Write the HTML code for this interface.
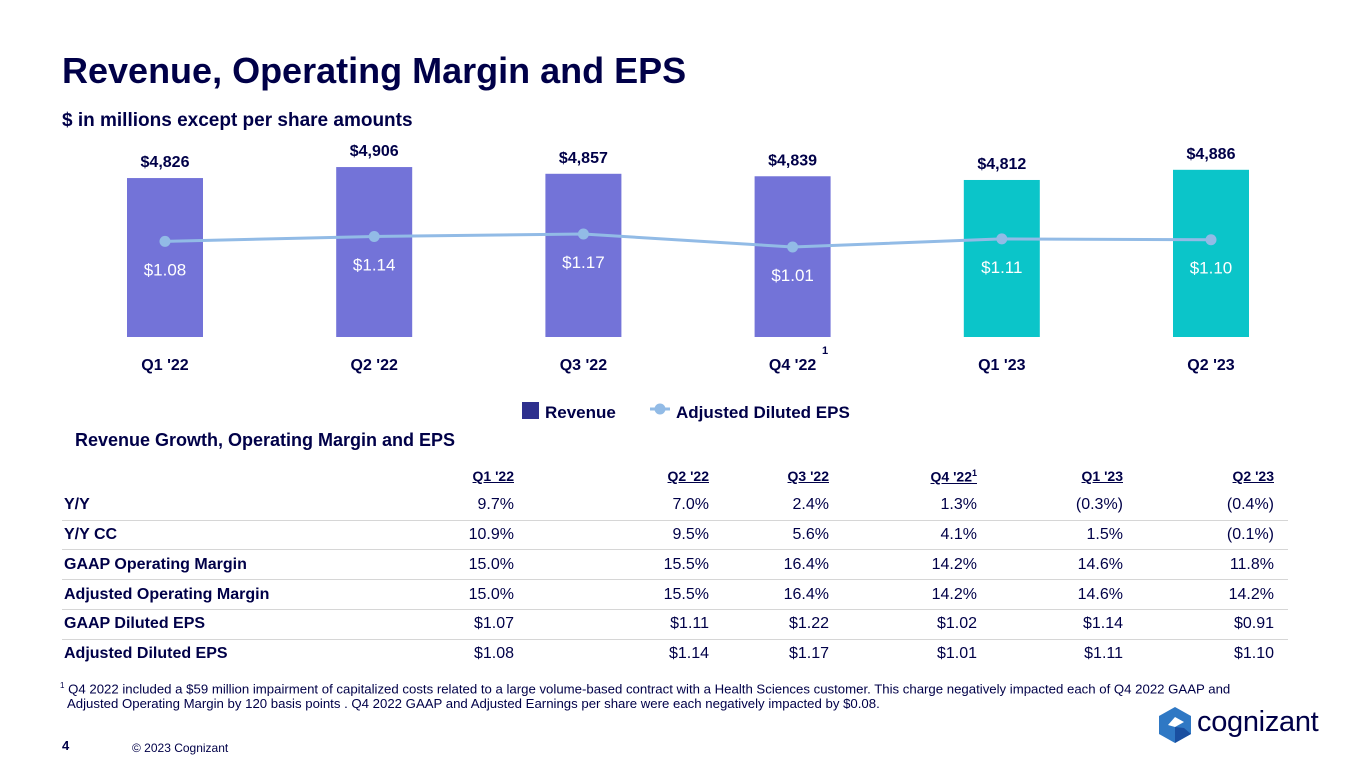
<!DOCTYPE html>
<html><head><meta charset="utf-8"><style>
body{margin:0;width:1365px;height:768px;background:#fff;font-family:"Liberation Sans",sans-serif;color:#000048;position:relative;overflow:hidden}
.abs{position:absolute}
table{position:absolute;left:62px;top:462px;width:1226px;border-collapse:collapse;font-size:16px;table-layout:fixed}
td,th{height:28.8px;padding:0;text-align:right;white-space:nowrap}
th{font-weight:bold;text-decoration:underline;font-size:14px}
td:last-child,th:last-child{padding-right:14px}
td:first-child{text-align:left;font-weight:bold;padding-left:2px}
tr.r td{border-bottom:1px solid #d6d6d6}
</style></head><body>
<div class="abs" style="left:62px;top:50px;font-size:36px;font-weight:bold">Revenue, Operating Margin and EPS</div>
<div class="abs" style="left:62px;top:110px;font-size:19px;font-weight:bold">$ in millions except per share amounts</div>
<svg class="abs" style="left:0;top:0" width="1365" height="440" id="chart"></svg>
<div class="abs" style="left:75px;top:430px;font-size:18px;font-weight:bold">Revenue Growth, Operating Margin and EPS</div>
<table>
<colgroup><col style="width:260px"><col style="width:192px"><col style="width:195px"><col style="width:120px"><col style="width:148px"><col style="width:146px"><col style="width:165px"></colgroup>
<tr><th></th><th>Q1 '22</th><th>Q2 '22</th><th>Q3 '22</th><th>Q4 '22<sup style="font-size:9px">1</sup></th><th>Q1 '23</th><th>Q2 '23</th></tr>
<tr class="r"><td>Y/Y</td><td>9.7%</td><td>7.0%</td><td>2.4%</td><td>1.3%</td><td>(0.3%)</td><td>(0.4%)</td></tr>
<tr class="r"><td>Y/Y CC</td><td>10.9%</td><td>9.5%</td><td>5.6%</td><td>4.1%</td><td>1.5%</td><td>(0.1%)</td></tr>
<tr class="r"><td>GAAP Operating Margin</td><td>15.0%</td><td>15.5%</td><td>16.4%</td><td>14.2%</td><td>14.6%</td><td>11.8%</td></tr>
<tr class="r"><td>Adjusted Operating Margin</td><td>15.0%</td><td>15.5%</td><td>16.4%</td><td>14.2%</td><td>14.6%</td><td>14.2%</td></tr>
<tr class="r"><td>GAAP Diluted EPS</td><td>$1.07</td><td>$1.11</td><td>$1.22</td><td>$1.02</td><td>$1.14</td><td>$0.91</td></tr>
<tr><td>Adjusted Diluted EPS</td><td>$1.08</td><td>$1.14</td><td>$1.17</td><td>$1.01</td><td>$1.11</td><td>$1.10</td></tr>
</table>
<div class="abs" style="left:67px;top:678px;font-size:13.2px;line-height:15px;width:1290px;white-space:nowrap"><sup style="font-size:8px;margin-left:-7px">1</sup> Q4 2022 included a $59 million impairment of capitalized costs related to a large volume-based contract with a Health Sciences customer. This charge negatively impacted each of Q4 2022 GAAP and<br>Adjusted Operating Margin by 120 basis points . Q4 2022 GAAP and Adjusted Earnings per share were each negatively impacted by $0.08.</div>
<div class="abs" style="left:62px;top:738px;font-size:13px;font-weight:bold">4</div>
<div class="abs" style="left:132px;top:741px;font-size:12px">© 2023 Cognizant</div>
<div class="abs" style="left:1155px;top:705px">
<svg width="40" height="40" style="position:absolute;left:0;top:0"><polygon points="20,2 36,11 36,29 20,38 4,29 4,11" fill="#2f78c4"/><polygon points="20,12 29,17 20,22 13,20" fill="#fff"/><polygon points="20,22 29,23 36,29 20,38" fill="#1a4fa0"/></svg>
<div style="position:absolute;left:42px;top:1px;font-size:29px;letter-spacing:-0.3px">cognizant</div></div>
<script>
const categories=["Q1 '22","Q2 '22","Q3 '22","Q4 '22","Q1 '23","Q2 '23"];
const revenue=[4826,4906,4857,4839,4812,4886];
const eps=[1.08,1.14,1.17,1.01,1.11,1.10];
const revLabels=["$4,826","$4,906","$4,857","$4,839","$4,812","$4,886"];
const epsLabels=["$1.08","$1.14","$1.17","$1.01","$1.11","$1.10"];
const svg=document.getElementById('chart');const NS='http://www.w3.org/2000/svg';
const xC=i=>165+i*209.2, yR=v=>337-(v-3670)*0.1375, yE=v=>247-(v-1.01)*81;
function mk(t,a,txt){const e=document.createElementNS(NS,t);for(const k in a)e.setAttribute(k,a[k]);if(txt!=null)e.textContent=txt;svg.appendChild(e);return e;}
categories.forEach((c,i)=>{
 const col=i<4?'#7373d8':'#0bc5c9';
 const b=mk('rect',{x:xC(i)-38,y:yR(revenue[i]),width:76,height:337-yR(revenue[i]),fill:col});
 
 
 const l=mk('text',{x:xC(i),y:yR(revenue[i])-11,'text-anchor':'middle','font-size':16,'font-weight':'bold',fill:'#000048'},revLabels[i]);
 
 
 const x=mk('text',{x:xC(i),y:370,'text-anchor':'middle','font-size':16,'font-weight':'bold',fill:'#000048'},c);
 
 
});
mk('text',{x:822,y:354,'font-size':11,'font-weight':'bold',fill:'#000048'},'1');
const pts=eps.map((v,i)=>xC(i)+','+yE(v)).join(' ');
const pl=mk('polyline',{points:pts,fill:'none',stroke:'#92bbe6','stroke-width':3});


eps.forEach((v,i)=>{
 const c=mk('circle',{cx:xC(i),cy:yE(v),r:5.5,fill:'#92bbe6'});
 
 
 const t=mk('text',{x:xC(i),y:yE(v)+34,'text-anchor':'middle','font-size':17,fill:'#fff'},epsLabels[i]);
 
 
});
const lg1=mk('rect',{x:522,y:402,width:17,height:17,fill:'#2e308e'});


mk('text',{x:545,y:418,'font-size':17,'font-weight':'bold',fill:'#000048'},'Revenue');
mk('line',{x1:650,y1:409,x2:670,y2:409,stroke:'#92bbe6','stroke-width':3});
const lg2=mk('circle',{cx:660,cy:409,r:5.5,fill:'#92bbe6'});


mk('text',{x:676,y:418,'font-size':17,'font-weight':'bold',fill:'#000048'},'Adjusted Diluted EPS');
</script>
</body></html>
